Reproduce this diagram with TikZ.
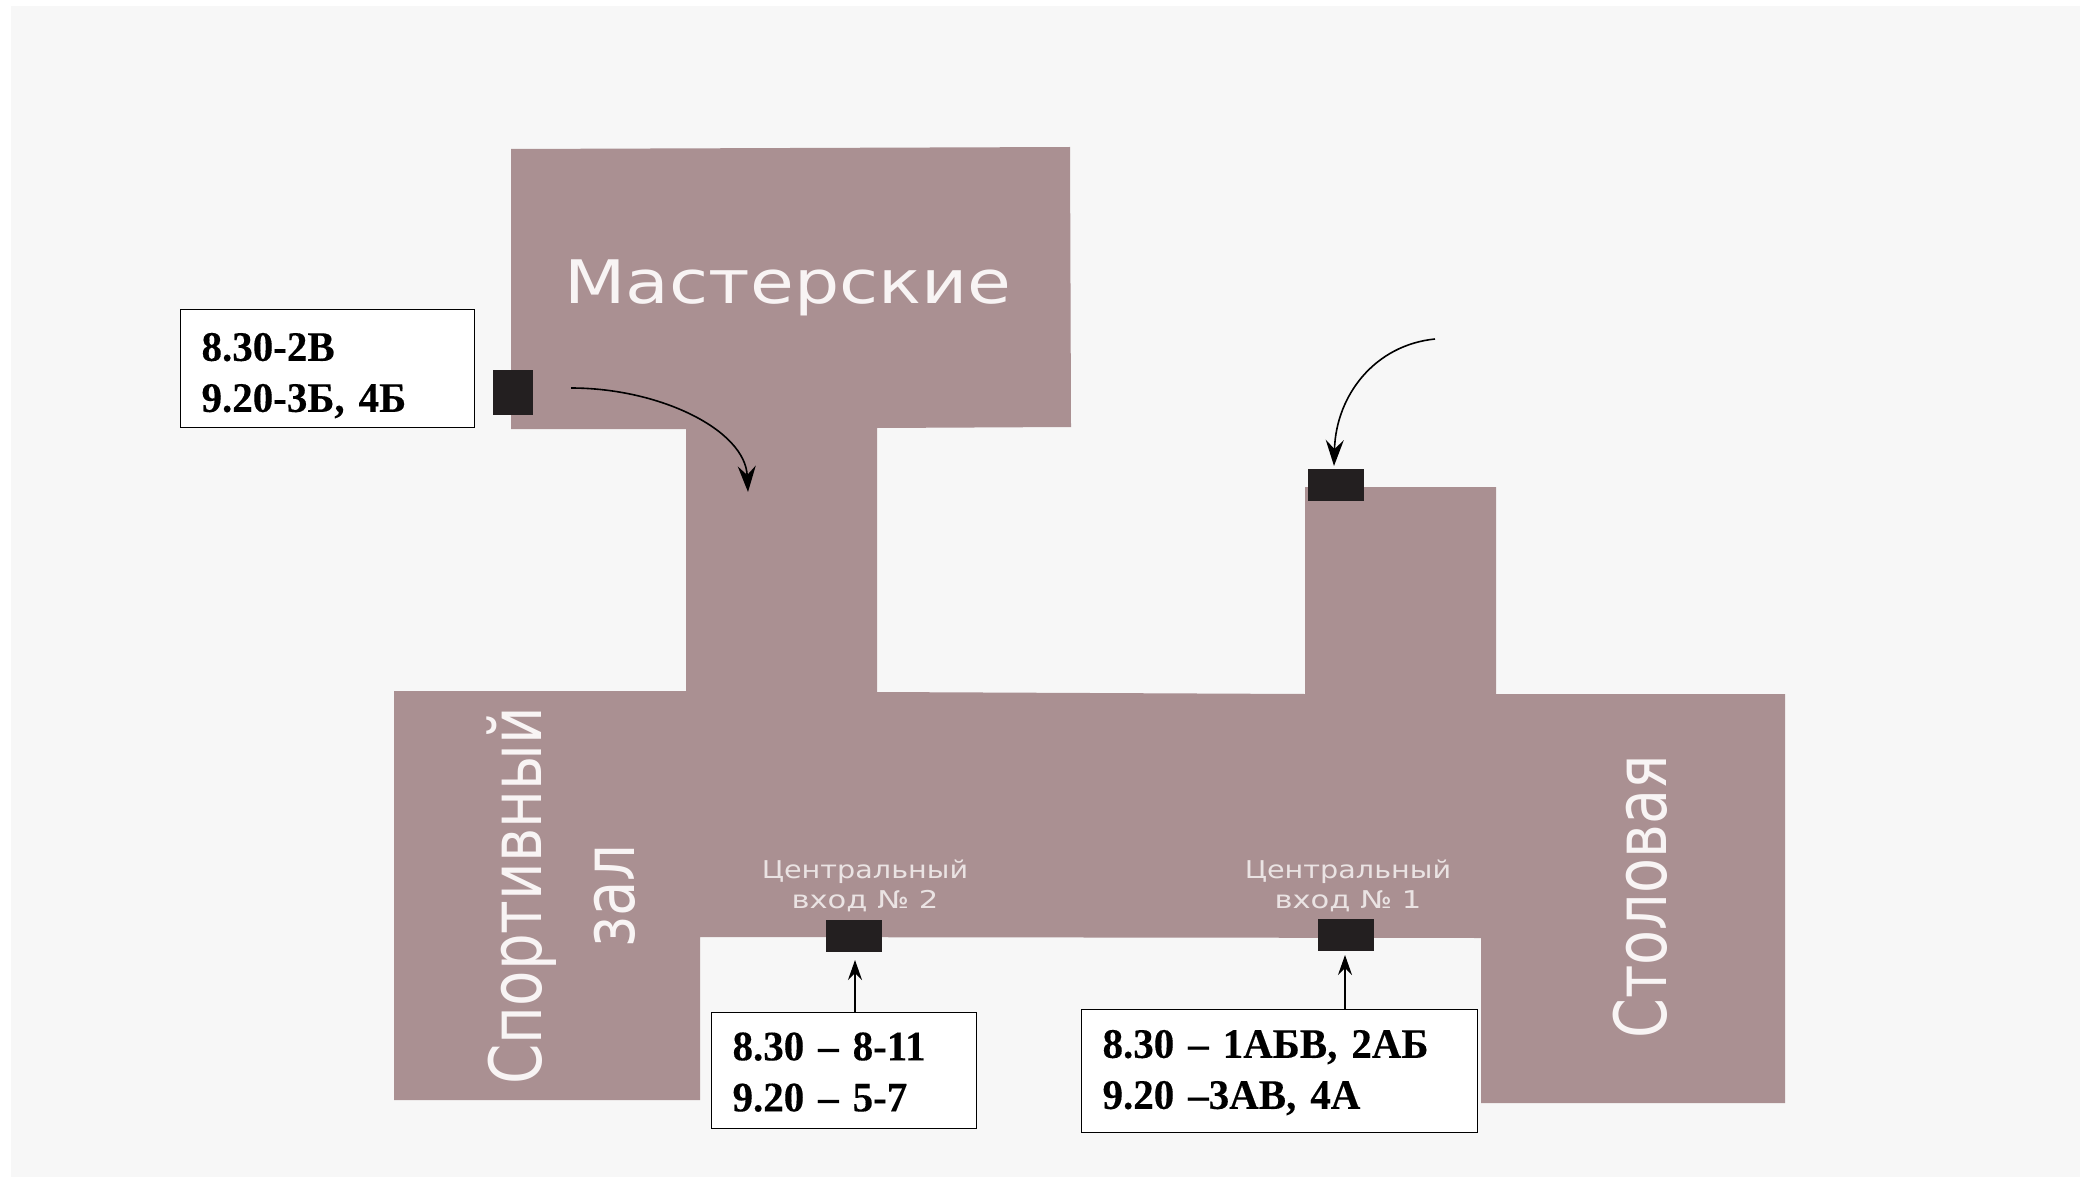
\documentclass[tikz,border=0pt]{standalone}
\usepackage{fontspec}
\setmainfont[WordSpace=0.7,BoldFeatures={FakeStretch=0.975,FakeBold=0.25}]{Liberation Serif}
\newfontfamily\roomfont{DejaVu Sans}
\definecolor{bldg}{HTML}{AA9092}
\definecolor{inner}{HTML}{F7F7F7}
\definecolor{door}{HTML}{231F20}
\definecolor{roomtxt}{HTML}{F8F4F4}
\definecolor{smalltxt}{HTML}{EAE3E3}
\usetikzlibrary{arrows.meta}
\newcommand{\sq}[2]{\scalebox{#1}[1]{#2}}
\newcommand{\lowerby}[1]{\rule{0pt}{#1}}
\tikzset{
  building/.style={fill=bldg,draw=none},
  doorbox/.style={fill=door,draw=none,inner sep=0pt,anchor=north west},
  infobox/.style={draw=black,line width=1.2pt,fill=white,align=left,anchor=north west,inner ysep=0pt,inner xsep=21pt,font=\fontsize{42}{51}\selectfont\bfseries},
  arr/.style={draw=black,line width=1.6pt,-{Stealth[length=26pt,width=18pt,inset=9pt]}},
  sarr/.style={draw=black,line width=1.3pt,-{Stealth[length=20pt,width=14pt,inset=7pt]}},
  roomlabel/.style={text=roomtxt,font=\roomfont\fontsize{60}{70}\selectfont,align=center,inner sep=0pt},
  sidelabel/.style={text=roomtxt,font=\roomfont\fontsize{72}{93}\selectfont,align=center,inner sep=0pt,rotate=90},
  smalllabel/.style={text=smalltxt,font=\roomfont\fontsize{24.5}{30}\selectfont,align=center,inner sep=0pt}
}
\begin{document}
\begin{tikzpicture}[x=1pt,y=-1pt]
\useasboundingbox (0,0) rectangle (2080,1177);
\fill[white] (0,0) rectangle (2080,1177);
\fill[inner] (11,6) rectangle (2080,1177);
\fill[building] (511,149) -- (1070,147) -- (1071,427) -- (877,428) -- (877,692) -- (1305,694) -- (1305,487) -- (1496,487) -- (1496,694) -- (1785,694) -- (1785,1103) -- (1481,1103) -- (1481,938) -- (700,937) -- (700,1100) -- (394,1100) -- (394,691) -- (686,691) -- (686,429) -- (511,429) -- cycle;
\node[doorbox,minimum width=40pt,minimum height=45pt] (d3) at (493,370) {};
\node[doorbox,minimum width=56pt,minimum height=32pt] (d4) at (1308,469) {};
\node[doorbox,minimum width=56pt,minimum height=32pt] (d2) at (826,920) {};
\node[doorbox,minimum width=56pt,minimum height=32pt] (d1) at (1317.5,919) {};
\node[roomlabel] (r1) at (788,288) {\sq{1.187}{Мастерские}};
\node[sidelabel] (r2) at (561,896) {\sq{0.805}{Спортивный}\\\sq{0.805}{зал}};
\node[sidelabel] (r3) at (1640,897) {\sq{0.795}{Столовая}};
\node[smalllabel] (c2) at (865,885.5) {\sq{1.17}{Центральный}\\\sq{1.25}{вход № 2}};
\node[smalllabel] (c1) at (1348,885.5) {\sq{1.17}{Центральный}\\\sq{1.25}{вход № 1}};
\node[infobox,minimum width=294pt,minimum height=118pt,text width=252pt] (b3) at (180,309) {\lowerby{42pt}8.30-2В\\9.20-3Б, 4Б};
\node[infobox,minimum width=265pt,minimum height=116pt,text width=223pt] (b2) at (711,1012) {\lowerby{31pt}8.30 -- 8-11\\9.20 -- 5-7};
\node[infobox,minimum width=396pt,minimum height=123pt,text width=354pt] (b1) at (1081,1009) {\lowerby{31pt}8.30 -- 1АБВ, 2АБ\\9.20 --3АВ, 4А};
\coordinate (s3) at (571,388);
\coordinate (t3) at (748,492);
\coordinate (s4) at (1435,339);
\coordinate (t4) at (1334,466);
\coordinate (t2) at (855,960);
\coordinate (t1) at (1345,955);
\draw[arr] (s3) .. controls (660,388) and (745,430) .. (t3);
\draw[arr] (s4) .. controls (1375,345) and (1336,395) .. (t4);
\draw[sarr] (b2.north -| t2) -- (t2);
\draw[sarr] (b1.north -| t1) -- (t1);
\end{tikzpicture}
\end{document}
